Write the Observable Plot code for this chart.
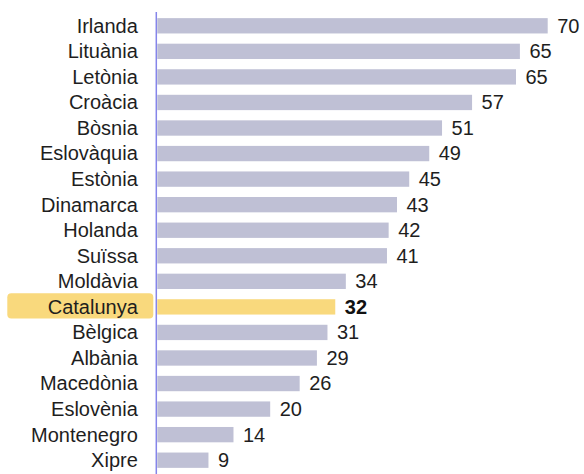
<!DOCTYPE html>
<html>
<head>
<meta charset="utf-8">
<script src="https://cdn.jsdelivr.net/npm/d3@7"></script>
<script src="https://cdn.jsdelivr.net/npm/@observablehq/plot@0.6"></script>
<style>
  body { margin: 0; background: #fff; }
  #chart svg { display: block; }
</style>
</head>
<body>
<div id="chart"></div>
<script>
const countries = ["Irlanda","Lituània","Letònia","Croàcia","Bòsnia","Eslovàquia","Estònia","Dinamarca","Holanda","Suïssa","Moldàvia","Catalunya","Bèlgica","Albània","Macedònia","Eslovènia","Montenegro","Xipre"];
const values = [70.2,65.2,64.5,56.6,51.2,48.9,45.3,43.1,41.6,41.3,33.9,32.0,30.6,28.7,25.6,20.3,13.7,9.2];
const labels = ["70","65","65","57","51","49","45","43","42","41","34","32","31","29","26","20","14","9"];
const highlight = "Catalunya";

const data = countries.map((c, i) => ({country: c, value: values[i], label: labels[i], hl: c === highlight}));
const hlData = data.filter(d => d.hl);
const other = data.filter(d => !d.hl);

const chart = Plot.plot({
  width: 584,
  height: 474,
  marginLeft: 157.3,
  marginRight: 36.3,
  marginTop: 12,
  marginBottom: 0,
  style: {fontFamily: "'Liberation Sans', Arial, sans-serif", background: "#fff"},
  x: {domain: [0, 70.2], axis: null},
  y: {domain: countries, axis: null, paddingInner: 0.4, paddingOuter: 0.24, round: false},
  marks: [
    Plot.barX(hlData, {y: "country", x1: 0, x2: 0, insetLeft: -150, insetRight: 4, insetTop: -6, insetBottom: -4, rx: 4, fill: "#F9D97D"}),
    Plot.barX(other, {y: "country", x: "value", fill: "#BFC0D5"}),
    Plot.barX(hlData, {y: "country", x: "value", fill: "#F9D97D"}),
    Plot.ruleX([0], {stroke: "#8585EA", strokeWidth: 1.5, dx: -1.5}),
    Plot.text(data, {y: "country", x: 0, text: "country", textAnchor: "end", dx: -20, fontSize: 20, fill: "#1e1e1e"}),
    Plot.text(other, {y: "country", x: "value", text: "label", textAnchor: "start", dx: 9, fontSize: 20, fill: "#1e1e1e"}),
    Plot.text(hlData, {y: "country", x: "value", text: "label", textAnchor: "start", dx: 9, fontSize: 20, fontWeight: "bold", fill: "#111"})
  ]
});
document.getElementById("chart").appendChild(chart);
</script>
</body>
</html>
